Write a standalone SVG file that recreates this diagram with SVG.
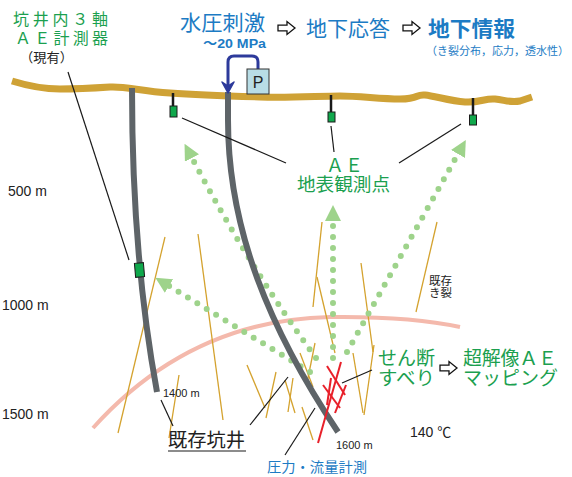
<svg xmlns="http://www.w3.org/2000/svg" width="572" height="477" viewBox="0 0 572 477">
  <style>
    .jp { font-family: "Noto Sans CJK JP", "Noto Sans", sans-serif; }
    .lat { font-family: "Liberation Sans", "Noto Sans CJK JP", sans-serif; }
    .green { fill: #1ba04f; }
    .blue { fill: #1c7bc4; }
    .dark { fill: #222; }
    .well { fill: none; stroke: #5e6468; stroke-width: 6; stroke-linecap: butt; }
    .frac { stroke: #d4a22e; stroke-width: 1.3; fill: none; }
    .slip { stroke: #e8202a; stroke-width: 2; fill: none; }
    .lead { stroke: #1a1a1a; stroke-width: 1.2; fill: none; }
    .ae { fill: none; stroke: #9ed38b; stroke-width: 6; stroke-linecap: round; stroke-dasharray: 0 11; marker-end: url(#ae-head); }
    .stick { stroke: #1a1a1a; stroke-width: 2.5; }
    .sensor { fill: #10a84c; stroke: #1a1a1a; stroke-width: 1; }
    .flow { fill: #fff; stroke: #111; stroke-width: 1.3; stroke-linejoin: miter; }
  </style>
  <defs>
    <marker id="ae-head" viewBox="0 0 16 16" markerWidth="16" markerHeight="16" refX="0" refY="8" orient="auto" markerUnits="userSpaceOnUse">
      <path d="M0,0 L16,8 L0,16 Z" fill="#9ed38b"/>
    </marker>
    <!-- hollow flow arrow, origin at left end of shaft centre line -->
    <path id="flow-arrow" class="flow" d="M0,-2.8 L9,-2.8 L9,-6.5 L17,0 L9,6.5 L9,2.8 L0,2.8 Z"/>
  </defs>

  <rect width="572" height="477" fill="#fff"/>

  <!-- isotherm band -->
  <path id="isotherm" d="M93,428 Q190,320 330,317 Q410,316 460,327" fill="none" stroke="#f4b9ac" stroke-width="4"/>

  <!-- pre-existing fractures -->
  <g id="fractures">
    <line class="frac" x1="165" y1="237" x2="118" y2="433"/>
    <line class="frac" x1="198" y1="234" x2="223" y2="420"/>
    <line class="frac" x1="179" y1="375" x2="169" y2="438"/>
    <line class="frac" x1="322" y1="222" x2="313" y2="307"/>
    <line class="frac" x1="317" y1="277" x2="335" y2="353"/>
    <line class="frac" x1="361" y1="263" x2="373" y2="352"/>
    <line class="frac" x1="374" y1="345" x2="364" y2="415"/>
    <line class="frac" x1="437" y1="222" x2="416" y2="312"/>
    <line class="frac" x1="247" y1="365" x2="265" y2="408"/>
    <line class="frac" x1="276" y1="372" x2="266" y2="418"/>
    <line class="frac" x1="285" y1="380" x2="295" y2="413"/>
    <line class="frac" x1="293" y1="378" x2="288" y2="412"/>
    <line class="frac" x1="300" y1="353" x2="313" y2="387"/>
    <line class="frac" x1="315" y1="343" x2="307" y2="383"/>
    <line class="frac" x1="302" y1="407" x2="313" y2="440"/>
    <line class="frac" x1="353" y1="353" x2="363" y2="413"/>
  </g>

  <!-- AE wave paths toward the observation points -->
  <g id="connectors-ae">
    <path class="ae" d="M316,358 Q250,268 192,158"/>
    <path class="ae" d="M310,372 L169,286"/>
    <path class="ae" d="M333,358 L333,221"/>
    <path class="ae" d="M347,352 L458,154"/>
  </g>

  <!-- ground surface -->
  <path id="ground" d="M12,81 C25,85 40,89 60,89 S95,88 110,87 S140,91 170,93 S230,96 260,97 S320,96 340,96 S380,99 400,99 S415,94 425,95 S450,101 465,102 S485,98 495,99 S510,103 520,101 L532,97" fill="none" stroke="#cfa236" stroke-width="7" stroke-linejoin="round"/>

  <!-- boreholes -->
  <g id="well-existing">
    <path class="well" d="M132,88 C132,200 140,300 157,392"/>
    <rect class="sensor" x="135" y="263" width="9" height="14" stroke-width="1.2" transform="rotate(-5 139.5 270)"/>
  </g>
  <g id="well-new">
    <path class="well" d="M228,92 L228,120 C228,230 270,330 338,432"/>
  </g>

  <!-- pump and injection line -->
  <g id="pump">
    <path d="M258,69 L258,62 Q258,56 252,56 L234,56 Q228,56 228,62 L228,88" fill="none" stroke="#2d3a9b" stroke-width="3"/>
    <path d="M222,82 L228,93 L234,82 L228,86 Z" fill="#2d3a9b" stroke="#2d3a9b" stroke-width="1.5" stroke-linejoin="round"/>
    <rect x="247" y="69" width="22" height="25" fill="#b8dde6" stroke="#333" stroke-width="1"/>
    <text class="lat dark" x="258" y="88" font-size="16" text-anchor="middle">P</text>
  </g>

  <!-- surface AE sensors -->
  <g id="sensor-1">
    <line class="stick" x1="173" y1="93" x2="173" y2="107"/>
    <rect class="sensor" x="170" y="106" width="7" height="11"/>
  </g>
  <g id="sensor-2">
    <line class="stick" x1="331" y1="95" x2="331" y2="112"/>
    <rect class="sensor" x="328" y="112" width="7" height="10"/>
  </g>
  <g id="sensor-3">
    <line class="stick" x1="473" y1="98" x2="473" y2="115"/>
    <rect class="sensor" x="469.5" y="115" width="7" height="10"/>
  </g>

  <!-- shear slip zone -->
  <g id="shear-slip">
    <line class="slip" x1="341" y1="362" x2="318" y2="443"/>
    <line class="slip" x1="327" y1="366" x2="345" y2="395"/>
    <line class="slip" x1="346" y1="385" x2="335" y2="413"/>
    <line class="slip" x1="323" y1="385" x2="340" y2="408"/>
    <line class="slip" x1="331" y1="378" x2="327" y2="405"/>
  </g>

  <!-- leader lines -->
  <g id="connectors">
    <line class="lead" x1="68" y1="72" x2="129" y2="260"/>
    <line class="lead" x1="182" y1="118" x2="286" y2="163"/>
    <line class="lead" x1="331" y1="126" x2="334" y2="152"/>
    <line class="lead" x1="461" y1="124" x2="399" y2="163"/>
    <line class="lead" x1="161" y1="400" x2="173" y2="426"/>
    <line class="lead" x1="250" y1="425" x2="288" y2="377"/>
    <line class="lead" x1="285" y1="455" x2="315" y2="408"/>
    <line class="lead" x1="342" y1="383" x2="372" y2="370"/>
  </g>

  <!-- headline flow -->
  <g id="title">
    <text class="jp blue" x="180" y="30" font-size="21" textLength="85" lengthAdjust="spacingAndGlyphs">水圧刺激</text>
    <text class="lat blue" x="203" y="48" font-size="12" font-weight="bold" textLength="63" lengthAdjust="spacingAndGlyphs">～20 MPa</text>
    <use href="#flow-arrow" x="278" y="28"/>
    <text class="jp blue" x="306" y="36" font-size="21" textLength="84" lengthAdjust="spacingAndGlyphs">地下応答</text>
    <use href="#flow-arrow" x="403" y="28"/>
    <text class="jp blue" x="428" y="36" font-size="21" font-weight="bold" textLength="87" lengthAdjust="spacingAndGlyphs">地下情報</text>
    <text class="jp blue" x="426" y="55" font-size="11" textLength="143" lengthAdjust="spacingAndGlyphs">（き裂分布，応力，透水性）</text>
  </g>

  <g id="label-borehole-ae">
    <text class="jp green" font-size="16"><tspan x="13" y="25" textLength="95" lengthAdjust="spacing">坑井内３軸</tspan><tspan x="15" y="44" textLength="93" lengthAdjust="spacing">ＡＥ計測器</tspan></text>
    <text class="jp dark" x="20" y="62" font-size="13" textLength="53" lengthAdjust="spacingAndGlyphs">（現有）</text>
  </g>

  <g id="label-surface-ae">
    <text class="jp green" font-size="18"><tspan x="326" y="172" textLength="37" lengthAdjust="spacing">ＡＥ</tspan><tspan x="297" y="191" textLength="93" lengthAdjust="spacingAndGlyphs">地表観測点</tspan></text>
  </g>

  <!-- depth scale -->
  <g id="depths" class="lat dark" font-size="14">
    <text x="8" y="196">500 m</text>
    <text x="2" y="310">1000 m</text>
    <text x="2" y="419">1500 m</text>
  </g>

  <g id="label-existing-crack">
    <text class="jp dark" font-size="11.5"><tspan x="429" y="285">既存</tspan><tspan x="429" y="297">き裂</tspan></text>
  </g>

  <g id="label-slip">
    <text class="jp green" font-size="19"><tspan x="378" y="365" textLength="57" lengthAdjust="spacingAndGlyphs">せん断</tspan><tspan x="378" y="385" textLength="57" lengthAdjust="spacingAndGlyphs">すべり</tspan></text>
    <use href="#flow-arrow" x="440" y="368"/>
    <text class="jp green" font-size="19"><tspan x="463" y="365" textLength="94" lengthAdjust="spacing">超解像ＡＥ</tspan><tspan x="463" y="385" textLength="95" lengthAdjust="spacingAndGlyphs">マッピング</tspan></text>
  </g>

  <g id="label-depth-marks" class="lat dark" font-size="11">
    <text x="163" y="397">1400 m</text>
    <text x="336" y="449">1600 m</text>
  </g>

  <text class="lat dark" x="410" y="437" font-size="14">140 ℃</text>

  <g id="label-existing-well">
    <text class="jp dark" x="168" y="447" font-size="19" textLength="77" lengthAdjust="spacingAndGlyphs">既存坑井</text>
    <line x1="168" y1="451" x2="246" y2="451" stroke="#1a1a1a" stroke-width="1.2"/>
  </g>

  <text id="label-measure" class="jp blue" x="267" y="472" font-size="14" textLength="100" lengthAdjust="spacingAndGlyphs">圧力・流量計測</text>
</svg>
